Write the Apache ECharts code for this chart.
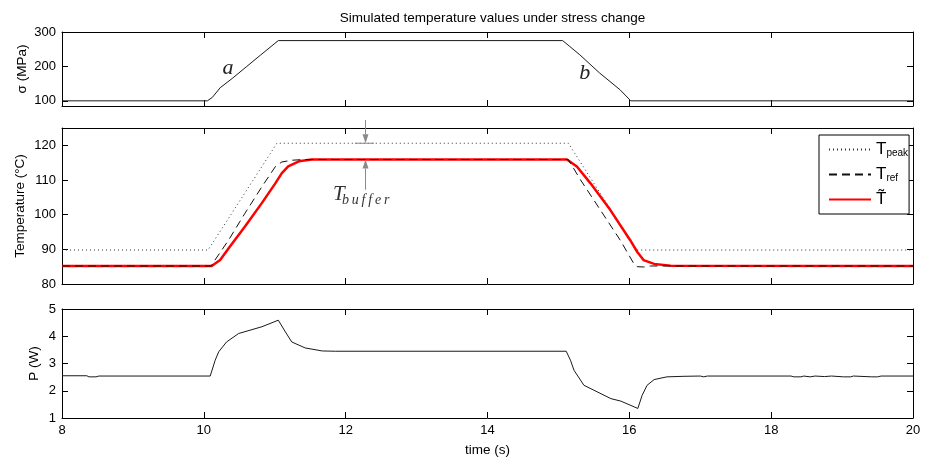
<!DOCTYPE html>
<html>
<head>
<meta charset="utf-8">
<script src="https://cdn.jsdelivr.net/npm/echarts@6/dist/echarts.min.js"></script>
<style>
  html, body { margin: 0; padding: 0; background: #fff; }
  #chart { width: 927px; height: 460px; }
</style>
</head>
<body>
<div id="chart"></div>
<script>
// ---- Stress profile σ (MPa) ----
const stressTime  = [8, 10.05, 10.12, 10.23, 10.4, 10.6, 10.8, 11.05, 15.06, 15.16, 15.3, 15.58, 15.87, 16.02, 20];
const stressValue = [100, 100, 110, 138, 165, 199, 233, 275, 275, 258, 234, 181, 132, 100, 100];

// ---- Temperatures (°C) ----
const peakTime  = [8, 10.06, 11.03, 15.14, 16.1, 20];
const peakValue = [89.8, 89.8, 120.6, 120.6, 89.8, 89.8];

const refTime  = [8, 10.1, 10.35, 10.58, 10.82, 11.01, 11.1, 11.24, 11.4, 15.14, 15.31, 15.59, 15.87, 16.06, 16.11, 16.2, 16.3, 20];
const refValue = [85.2, 85.2, 92.7, 100.4, 108.1, 113.9, 115.2, 115.7, 115.9, 115.9, 110.1, 101.4, 92.7, 86.0, 85.0, 84.9, 85.2, 85.2];

const estTime  = [8, 10.11, 10.23, 10.35, 10.58, 10.82, 11.01, 11.1, 11.19, 11.34, 11.52, 15.12, 15.26, 15.45, 15.73, 16.01, 16.11, 16.2, 16.35, 16.58, 20];
const estValue = [85.2, 85.2, 86.9, 90.3, 96.6, 103.4, 109.1, 112.0, 113.9, 115.4, 115.9, 115.9, 113.9, 109.1, 101.4, 92.7, 89.3, 86.9, 85.8, 85.3, 85.2];

// ---- Heater power P (W) ----
const powerTime  = [8, 8.35, 8.38, 8.48, 8.52, 10.09, 10.16, 10.21, 10.32, 10.49, 10.82, 11.05, 11.07, 11.15, 11.24, 11.43, 11.67, 11.86,
                    15.11, 15.17, 15.22, 15.36, 15.5, 15.74, 15.88, 16.12, 16.18, 16.25, 16.35, 16.53, 16.77, 17.0, 17.05, 17.1,
                    18.28, 18.32, 18.42, 18.46, 18.55, 18.62, 18.75, 18.85, 19.02, 19.12, 19.16, 19.42, 19.5, 19.55, 20];
const powerValue = [2.55, 2.55, 2.51, 2.51, 2.54, 2.54, 3.12, 3.43, 3.79, 4.10, 4.35, 4.59, 4.57, 4.16, 3.79, 3.57, 3.46, 3.45,
                    3.45, 3.12, 2.75, 2.20, 2.02, 1.71, 1.62, 1.35, 1.83, 2.20, 2.41, 2.51, 2.53, 2.54, 2.51, 2.54,
                    2.54, 2.51, 2.51, 2.54, 2.51, 2.54, 2.52, 2.54, 2.51, 2.51, 2.54, 2.51, 2.51, 2.54, 2.54];

// ---- Tick values ----
const timeRange    = [8, 20];
const stressTicks  = [100, 200, 300];
const tempTicks    = [80, 90, 100, 110, 120];
const powerTicks   = [1, 2, 3, 4, 5];

// ---- Annotation anchors (data units) ----
const bufferTime = 12.28;
const peakHigh = 120.6;
const refHigh = 115.9;

const FONT = "'Liberation Sans', Arial, Helvetica, sans-serif";
const SERIF = "'Liberation Serif', 'Times New Roman', serif";

const zip = (xs, ys) => xs.map((x, i) => [x, ys[i]]);

const grids = [
  { left: 62, right: 14, top: 32, height: 74, outerBoundsMode: 'none' },
  { left: 62, right: 14, top: 128, height: 156, outerBoundsMode: 'none' },
  { left: 62, right: 14, top: 309, height: 109, outerBoundsMode: 'none' }
];

function xAxis(g, position, showLabels) {
  const ax = {
    type: 'value', gridIndex: g, position: position,
    min: timeRange[0], max: timeRange[1], interval: 2,
    axisLine: { show: true, onZero: false, lineStyle: { color: '#000', width: 1 } },
    axisTick: { show: true, inside: true, length: 6, lineStyle: { color: '#000' } },
    axisLabel: { show: showLabels, margin: 6, color: '#000', fontSize: 13, fontFamily: FONT },
    splitLine: { show: false }
  };
  if (showLabels) {
    ax.name = 'time (s)';
    ax.nameLocation = 'middle';
    ax.nameGap = 25;
    ax.nameMoveOverlap = false;
    ax.nameTextStyle = { color: '#000', fontSize: 13.5, fontFamily: FONT };
  }
  return ax;
}

function yAxis(g, position, min, max, ticks, name, gap) {
  const ax = {
    type: 'value', gridIndex: g, position: position, min: min, max: max,
    axisLine: { show: true, onZero: false, lineStyle: { color: '#000', width: 1 } },
    axisTick: { show: true, inside: true, length: 6, customValues: ticks, lineStyle: { color: '#000' } },
    axisLabel: { show: position === 'left', customValues: ticks, margin: 6, color: '#000', fontSize: 13, fontFamily: FONT },
    splitLine: { show: false }
  };
  if (name && position === 'left') {
    ax.name = name;
    ax.nameLocation = 'middle';
    ax.nameGap = gap;
    ax.nameMoveOverlap = false;
    ax.nameTextStyle = { color: '#000', fontSize: 13.5, fontFamily: FONT };
  }
  return ax;
}

const xAxes = [
  xAxis(0, 'bottom', false), xAxis(0, 'top', false),
  xAxis(1, 'bottom', false), xAxis(1, 'top', false),
  xAxis(2, 'bottom', true),  xAxis(2, 'top', false)
];
const yAxes = [
  yAxis(0, 'left', 85, 300, stressTicks, 'σ (MPa)', 33), yAxis(0, 'right', 85, 300, stressTicks),
  yAxis(1, 'left', 80, 125, tempTicks, 'Temperature (°C)', 35), yAxis(1, 'right', 80, 125, tempTicks),
  yAxis(2, 'left', 1, 5, powerTicks, 'P (W)', 21), yAxis(2, 'right', 1, 5, powerTicks)
];

const legendLabels = {
  Tpeak: 'T{s|peak}',
  Tref: 'T{s|ref}',
  Test: 'T\u0303'
};

const option = {
  animation: false,
  backgroundColor: '#fff',
  title: {
    text: 'Simulated temperature values under stress change',
    left: 487.5, textAlign: 'center', top: 6,
    textStyle: { fontSize: 13.5, fontWeight: 'normal', color: '#000', fontFamily: FONT }
  },
  grid: grids,
  xAxis: xAxes,
  yAxis: yAxes,
  legend: {
    data: ['Tpeak', 'Tref', 'Test'],
    orient: 'vertical', left: 819, top: 135,
    padding: [6, 1, 6, 9], itemGap: 8, itemWidth: 42, itemHeight: 14,
    backgroundColor: '#fff', borderColor: '#000', borderWidth: 1, borderRadius: 0,
    selectedMode: false,
    itemStyle: { opacity: 0 },
    formatter: name => legendLabels[name],
    textStyle: {
      color: '#000', fontSize: 17, fontFamily: FONT,
      rich: { s: { fontSize: 10, fontFamily: FONT, color: '#000', verticalAlign: 'bottom' } }
    }
  },
  series: [
    {
      name: 'stress', type: 'line', xAxisIndex: 0, yAxisIndex: 0,
      data: zip(stressTime, stressValue), symbol: 'none',
      lineStyle: { color: '#1a1a1a', width: 1 }
    },
    {
      name: 'Tpeak', type: 'line', xAxisIndex: 2, yAxisIndex: 2,
      data: zip(peakTime, peakValue), symbol: 'none', z: 2,
      itemStyle: { color: '#333' },
      lineStyle: { color: '#333', width: 1, type: [1, 3] }
    },
    {
      name: 'Test', type: 'line', xAxisIndex: 2, yAxisIndex: 2,
      data: zip(estTime, estValue), symbol: 'none', z: 3,
      itemStyle: { color: '#ff0000' },
      lineStyle: { color: '#ff0000', width: 2.5 }
    },
    {
      name: 'Tref', type: 'line', xAxisIndex: 2, yAxisIndex: 2,
      data: zip(refTime, refValue), symbol: 'none', z: 4,
      itemStyle: { color: '#111' },
      lineStyle: { color: '#111', width: 1, type: [8, 5] }
    },
    {
      name: 'power', type: 'line', xAxisIndex: 4, yAxisIndex: 4,
      data: zip(powerTime, powerValue), symbol: 'none',
      lineStyle: { color: '#1a1a1a', width: 1 }
    }
  ]
};

const chart = echarts.init(document.getElementById('chart'), null, { renderer: 'canvas' });
chart.setOption(option);

// ---- Annotations: ramp labels and the T_buffer margin arrows ----
const px = (g, x, y) => chart.convertToPixel({ gridIndex: g }, [x, y]);
const arrowColor = '#8a8a8a';
const annoColor = '#333';

function arrow(tail, tip) {
  const dir = Math.sign(tip[1] - tail[1]);
  const headLen = 9, headHalf = 3;
  return [
    { type: 'line', z: 100, shape: { x1: tail[0], y1: tail[1], x2: tip[0], y2: tip[1] - dir * headLen },
      style: { stroke: arrowColor, lineWidth: 1 } },
    { type: 'polygon', z: 100, shape: { points: [[tip[0], tip[1]], [tip[0] - headHalf, tip[1] - dir * headLen], [tip[0] + headHalf, tip[1] - dir * headLen]] },
      style: { fill: arrowColor } }
  ];
}

const aPos = px(0, 10.34, 196);
const bPos = px(0, 15.37, 181);
const downTail = px(1, bufferTime, 127.3);
const downTip = px(1, bufferTime, peakHigh);
const upTail = px(1, bufferTime, 107.2);
const upTip = px(1, bufferTime, refHigh);
const barL = px(1, 12.13, peakHigh);
const barR = px(1, 12.40, peakHigh);
const tBase = px(1, 11.82, 103.8);

const graphics = [
  { type: 'text', z: 100, x: aPos[0], y: aPos[1],
    style: { text: 'a', fill: '#222', font: 'italic 22px ' + SERIF, align: 'center', verticalAlign: 'middle' } },
  { type: 'text', z: 100, x: bPos[0], y: bPos[1],
    style: { text: 'b', fill: '#222', font: 'italic 22px ' + SERIF, align: 'center', verticalAlign: 'middle' } },
  { type: 'line', z: 100, shape: { x1: barL[0], y1: barL[1], x2: barR[0], y2: barR[1] },
    style: { stroke: arrowColor, lineWidth: 1 } },
  ...arrow(downTail, downTip),
  ...arrow(upTail, upTip),
  { type: 'text', z: 100, x: tBase[0], y: tBase[1] - 7.1,
    style: { text: 'T', fill: annoColor, font: 'italic 21px ' + SERIF, align: 'left', verticalAlign: 'middle' } },
  { type: 'text', z: 100, x: tBase[0] + 9, y: tBase[1] - 0.8,
    style: { text: 'b\u2009u\u2009f\u2009f\u2009e\u2009r', fill: annoColor, font: 'italic 14px ' + SERIF, align: 'left', verticalAlign: 'middle' } }
];

chart.setOption({ graphic: graphics });
</script>
</body>
</html>
